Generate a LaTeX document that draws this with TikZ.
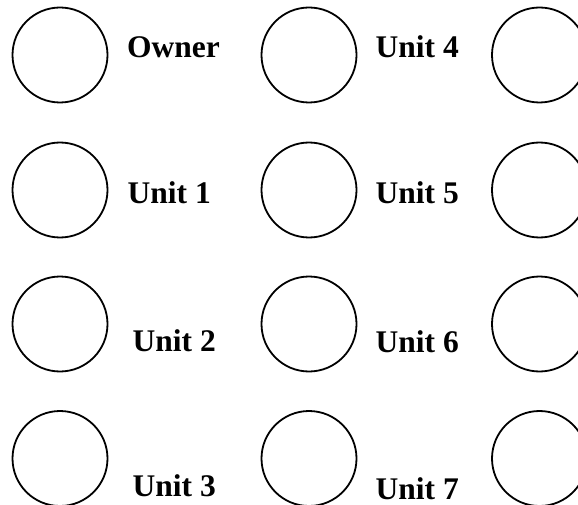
\documentclass[tikz,border=0pt]{standalone}
\usepackage{fontspec}
\setmainfont{Liberation Serif}
\usepackage{tikz}
\usetikzlibrary{positioning}
\tikzset{
    spot/.style={circle,draw,line width=1.8pt,minimum size=95pt,inner sep=0pt},
    tag/.style={anchor=base west,draw=none,fill=none,inner sep=0pt,
        node font=\fontsize{31.5}{36}\selectfont\bfseries},
}

\begin{document}
\begin{tikzpicture}[
    x=1pt,y=-1pt,
]
    \useasboundingbox (0,0) rectangle (578,505);
    \node [spot] (s1) at (60,55) {};
    \node [spot] (s2) at (60,190) {};
    \node [spot] (s3) at (60,324) {};
    \node [spot] (s4) at (60,458.5) {};
    \node [spot] (s5) at (309,55) {};
    \node [spot] (s6) at (309,190) {};
    \node [spot] (s7) at (309,324) {};
    \node [spot] (s8) at (309,458.5) {};
    \node [spot] (s9) at (539.5,55) {};
    \node [spot] (s10) at (539.5,190) {};
    \node [spot] (s11) at (539.5,324) {};
    \node [spot] (s12) at (539.5,458.5) {};
    \node [tag] (owner) at (127,57.3) {Owner};
    \node [tag] (unit1) at (127.5,204) {Unit 1};
    \node [tag] (unit2) at (132.5,351.7) {Unit 2};
    \node [tag] (unit3) at (132.5,496.7) {Unit 3};
    \node [tag] (unit4) at (375.5,57.3) {Unit 4};
    \node [tag] (unit5) at (375.5,203.3) {Unit 5};
    \node [tag] (unit6) at (375.5,352.3) {Unit 6};
    \node [tag] (unit7) at (375.5,499) {Unit 7};
\end{tikzpicture}
\end{document}
